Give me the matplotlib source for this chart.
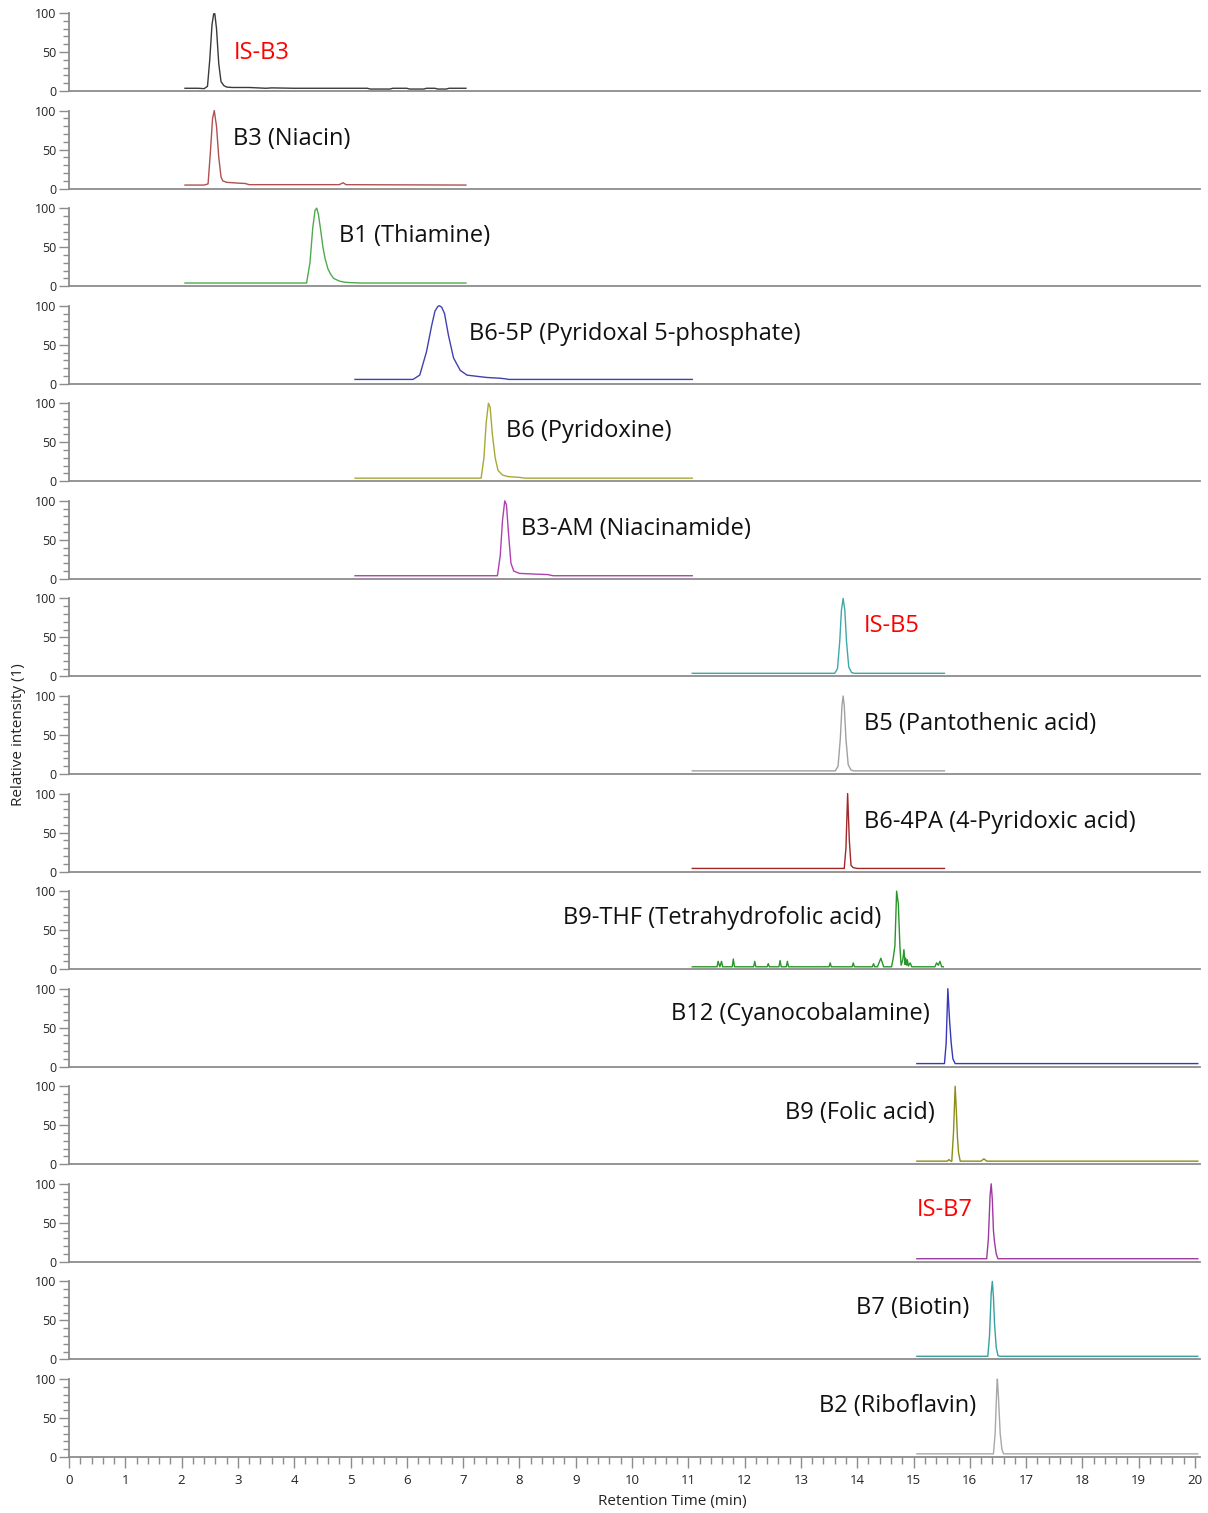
import matplotlib
matplotlib.use("Agg")
import matplotlib.pyplot as plt
from matplotlib.ticker import MultipleLocator

plt.rcParams['font.family'] = ['Open Sans', 'DejaVu Sans']

# ---- chromatogram data (retention time in min, relative intensity in %) ----
names = ["IS-B3", "B3 (Niacin)", "B1 (Thiamine)", "B6-5P (Pyridoxal 5-phosphate)",
         "B6 (Pyridoxine)", "B3-AM (Niacinamide)", "IS-B5", "B5 (Pantothenic acid)",
         "B6-4PA (4-Pyridoxic acid)", "B9-THF (Tetrahydrofolic acid)", "B12 (Cyanocobalamine)",
         "B9 (Folic acid)", "IS-B7", "B7 (Biotin)", "B2 (Riboflavin)"]

is_b3_t = [2.06, 2.30, 2.40, 2.46, 2.50, 2.54, 2.57, 2.59, 2.62, 2.66, 2.70, 2.75, 2.80, 2.90,
           3.20, 3.50, 3.60, 4.00, 4.50, 5.30, 5.35, 5.70, 5.75, 6.00, 6.05, 6.30, 6.35, 6.50,
           6.55, 6.70, 6.75, 7.05]
is_b3_y = [3.5, 3.5, 3.0, 6, 40, 85, 99, 99, 80, 35, 12, 7, 5, 4.5, 4.5, 3.5, 4, 3.5, 3.5,
           3.5, 2.5, 2.5, 3.5, 3.5, 2.5, 2.5, 3.5, 3.5, 2.5, 2.5, 3.5, 3.5]

b3_t = [2.06, 2.40, 2.47, 2.51, 2.55, 2.58, 2.62, 2.66, 2.70, 2.73, 2.80, 3.00, 3.13, 3.20,
        4.80, 4.87, 4.92, 7.05]
b3_y = [4.5, 4.5, 6, 45, 90, 100, 80, 40, 15, 10, 8, 7, 6.5, 5, 5, 7.5, 5, 4.5]

b1_t = [2.06, 4.22, 4.28, 4.33, 4.37, 4.40, 4.43, 4.47, 4.51, 4.55, 4.60, 4.65, 4.70, 4.80,
        4.90, 5.00, 5.20, 7.05]
b1_y = [4, 4, 30, 75, 97, 100, 92, 72, 50, 35, 22, 15, 10, 6.5, 5, 4.5, 4, 4]

b6_5p_t = [5.08, 6.11, 6.23, 6.35, 6.44, 6.50, 6.55, 6.58, 6.62, 6.67, 6.74, 6.83, 6.95,
           7.07, 7.30, 7.42, 7.66, 7.78, 7.80, 11.07]
b6_5p_y = [5.5, 5.5, 11, 41, 74, 93, 99, 100, 98, 90, 62, 33, 17, 11, 9, 8, 7, 6, 5.5, 5.5]

b6_t = [5.08, 7.32, 7.37, 7.41, 7.45, 7.48, 7.52, 7.57, 7.62, 7.70, 7.80, 8.00, 8.10, 11.07]
b6_y = [4, 4, 30, 75, 100, 95, 60, 30, 14, 8, 6, 5, 4, 4]

b3am_t = [5.08, 7.61, 7.66, 7.70, 7.74, 7.77, 7.81, 7.85, 7.90, 8.00, 8.30, 8.50, 8.60, 11.07]
b3am_y = [4, 4, 30, 75, 100, 95, 55, 20, 10, 7, 6, 5.5, 4, 4]

is_b5_t = [11.07, 13.60, 13.65, 13.69, 13.72, 13.75, 13.78, 13.81, 13.85, 13.90, 13.95, 15.55]
is_b5_y = [4, 4, 10, 45, 85, 100, 85, 45, 12, 5, 4, 4]

b5_t = [11.07, 13.61, 13.66, 13.70, 13.73, 13.75, 13.77, 13.80, 13.84, 13.89, 13.94, 15.55]
b5_y = [4, 4, 10, 45, 88, 100, 88, 45, 12, 5, 4, 4]

b6_4pa_t = [11.07, 13.77, 13.80, 13.83, 13.86, 13.89, 13.93, 14.00, 15.55]
b6_4pa_y = [4, 4, 30, 100, 40, 8, 5, 4, 4]

b9thf_t = [11.07, 11.51, 11.53, 11.56, 11.59, 11.61, 11.78, 11.80, 11.82, 12.16, 12.18, 12.20,
           12.40, 12.42, 12.44, 12.61, 12.63, 12.65, 12.74, 12.76, 12.78, 13.50, 13.52, 13.54,
           13.91, 13.93, 13.95, 14.27, 14.29, 14.31, 14.36, 14.42, 14.47, 14.61, 14.64, 14.67,
           14.70, 14.73, 14.76, 14.78, 14.81, 14.83, 14.85, 14.86, 14.88, 14.89, 14.91, 14.94,
           14.97, 15.38, 15.41, 15.44, 15.47, 15.50, 15.53]
b9thf_y = [3, 3, 10, 3, 10, 3, 3, 13, 3, 3, 10, 3,
           3, 7, 3, 3, 11, 3, 3, 10, 3, 3, 8, 3,
           3, 8, 3, 3, 7, 3, 3, 14, 3, 3, 14, 30,
           100, 84, 27, 5, 12, 25, 6, 14, 5, 12, 4, 8,
           3, 3, 8, 5, 10, 3, 3]

b12_t = [15.06, 15.55, 15.58, 15.61, 15.64, 15.67, 15.70, 15.74, 20.05]
b12_y = [4, 4, 30, 100, 60, 30, 10, 4, 4]

b9_t = [15.06, 15.60, 15.63, 15.66, 15.68, 15.71, 15.74, 15.76, 15.78, 15.80, 15.83, 16.20,
        16.25, 16.30, 20.05]
b9_y = [4, 4, 6, 4, 4, 40, 100, 70, 35, 15, 4, 4, 7, 4, 4]

is_b7_t = [15.06, 16.30, 16.33, 16.36, 16.38, 16.40, 16.42, 16.44, 16.47, 16.50, 20.05]
is_b7_y = [4, 4, 30, 85, 100, 80, 40, 25, 10, 4, 4]

b7_t = [15.06, 16.32, 16.35, 16.38, 16.40, 16.42, 16.44, 16.47, 16.50, 16.53, 20.05]
b7_y = [4, 4, 30, 85, 100, 80, 45, 15, 5, 4, 4]

b2_t = [15.06, 16.42, 16.45, 16.48, 16.49, 16.51, 16.54, 16.57, 16.60, 20.05]
b2_y = [4, 4, 30, 90, 100, 75, 30, 10, 4, 4]

times = [is_b3_t, b3_t, b1_t, b6_5p_t, b6_t, b3am_t, is_b5_t, b5_t, b6_4pa_t, b9thf_t,
         b12_t, b9_t, is_b7_t, b7_t, b2_t]
values = [is_b3_y, b3_y, b1_y, b6_5p_y, b6_y, b3am_y, is_b5_y, b5_y, b6_4pa_y, b9thf_y,
          b12_y, b9_y, is_b7_y, b7_y, b2_y]

colors = ["#3a3a3a", "#b05050", "#50a850", "#4040b0", "#a8a838", "#b040b0", "#40a8a8",
          "#a0a0a0", "#a02828", "#289628", "#3838b8", "#8c8c18", "#a038a0", "#38a0a0",
          "#a8a8a8"]

# label anchor (left edge, in min) and height (%)
label_x = [2.93, 2.91, 4.80, 7.10, 7.76, 8.03, 14.12, 14.12, 14.12, 8.77, 10.69, 12.72,
           15.06, 13.98, 13.32]
label_y = [49, 63, 64, 64, 64, 64, 64, 64, 64, 66, 67, 66, 66, 66, 66]
label_red = [True, False, False, False, False, False, True, False, False, False, False,
             False, True, False, False]

# ---- layout ----
W, H = 1208, 1513
fig = plt.figure(figsize=(W / 100, H / 100), dpi=100)
x0_px, x1_px = 69, 1200
px_per_min = 56.3
xmax = (x1_px - x0_px) / px_per_min
first_zero_px, step_px, panel_px = 91, 97.57, 78

spine_col = "#8c8c8c"
n = len(names)
for i in range(n):
    zero_px = first_zero_px + i * step_px
    ax = fig.add_axes([x0_px / W, 1 - zero_px / H, (x1_px - x0_px) / W, panel_px / H])
    ax.plot(times[i], values[i], color=colors[i], lw=1.0, clip_on=False)
    ax.set_xlim(0, xmax)
    ax.set_ylim(0, 100)
    for s in ("top", "right"):
        ax.spines[s].set_visible(False)
    for s in ("left", "bottom"):
        ax.spines[s].set_color(spine_col)
        ax.spines[s].set_linewidth(1.3)
    ax.set_yticks([0, 50, 100])
    ax.yaxis.set_minor_locator(MultipleLocator(10))
    ax.tick_params(axis="y", which="major", length=7, width=1, color=spine_col,
                   labelsize=9, pad=2, labelcolor="#222222")
    ax.tick_params(axis="y", which="minor", length=4, width=1, color=spine_col)
    if i < n - 1:
        ax.set_xticks([])
    else:
        ax.set_xticks(range(0, 21))
        ax.xaxis.set_minor_locator(MultipleLocator(0.2))
        ax.tick_params(axis="x", which="major", length=8, width=1, color=spine_col,
                       labelsize=9.5, pad=4, labelcolor="#222222")
        ax.tick_params(axis="x", which="minor", length=5, width=1, color=spine_col)
    ax.patch.set_alpha(0)
    ax.text(label_x[i], label_y[i], names[i], ha="left", va="center", fontsize=17,
            color="#ff0000" if label_red[i] else "#111111")

fig.text(672 / W, 1 - 1502 / H, "Retention Time (min)", ha="center", va="center",
         fontsize=11, color="#222222")
fig.text(19 / W, 1 - 735 / H, "Relative intensity (1)", ha="center", va="center",
         rotation=90, fontsize=11, color="#222222")

fig.savefig("out.png", dpi=100, facecolor="white")
